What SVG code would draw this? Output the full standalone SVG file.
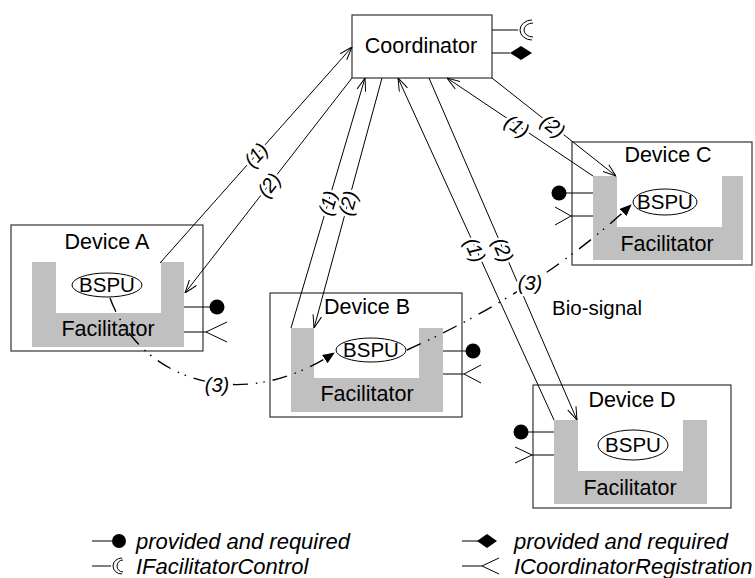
<svg xmlns="http://www.w3.org/2000/svg" width="755" height="578" viewBox="0 0 755 578">
<style>
text{font-family:"Liberation Sans",Arial,sans-serif;fill:#000}
.t{font-size:21.5px;text-anchor:middle}
.b{font-size:20.5px;text-anchor:middle}
.box{fill:#fff;stroke:#333;stroke-width:1.2}
.fac{fill:#c0c0c0;stroke:none}
.ell{fill:#fff;stroke:#000;stroke-width:1}
.ln{stroke:#000;stroke-width:1;fill:none}
.lbl{font-size:20px;font-style:italic;text-anchor:middle;stroke:#fff;stroke-width:5;paint-order:stroke;stroke-linejoin:round}
.bio{stroke:#000;stroke-width:1.4;fill:none;stroke-dasharray:15 8 1.5 6 1.5 8}
.leg{font-size:22px;font-style:italic}
</style>
<defs>
<marker id="open" viewBox="0 0 13 10" refX="13" refY="5" markerWidth="13" markerHeight="10" markerUnits="userSpaceOnUse" orient="auto"><path d="M0,0.5 L13,5 L0,9.5" fill="none" stroke="#000" stroke-width="1"/></marker>
<marker id="solid" viewBox="0 0 12 10" refX="11" refY="5" markerWidth="12" markerHeight="10" markerUnits="userSpaceOnUse" orient="auto"><path d="M0,0 L12,5 L0,10 z" fill="#000"/></marker>
</defs>
<rect width="755" height="578" fill="#fff"/>

<g id="coordinator">
<rect class="box" x="352" y="15" width="140" height="63"/>
<text class="t" x="421" y="53">Coordinator</text>
<line class="ln" x1="492" y1="30" x2="518" y2="30"/>
<path d="M532,20 A12,10 0 0 0 532,40" class="ln"/>
<path d="M533,23 A9,7 0 0 0 533,37" class="ln"/>
<line class="ln" x1="492" y1="53" x2="510" y2="53"/>
<path d="M510,53 L521,46 L532,53 L521,60 Z" fill="#000"/>
</g>

<g id="deviceA">
<rect class="box" x="11" y="225" width="192" height="126"/>
<path class="fac" d="M32,262 H56 V313 H161 V262 H184 V347 H32 Z"/>
<text class="t" x="107" y="249">Device A</text>
<ellipse class="ell" cx="107" cy="285" rx="35" ry="12"/>
<text class="b" x="107" y="292">BSPU</text>
<text class="t" x="108" y="336">Facilitator</text>
<line class="ln" x1="184" y1="307" x2="211" y2="307"/>
<circle cx="217" cy="307" r="7.5" fill="#000"/>
<line class="ln" x1="184" y1="332" x2="206" y2="332"/>
<path class="ln" d="M227,322 L206,332 L227,342" stroke-width="1.3"/>
</g>

<g id="deviceB">
<rect class="box" x="270" y="293" width="192" height="124"/>
<path class="fac" d="M291,328 H314 V378 H419 V328 H443 V412 H291 Z"/>
<text class="t" x="367" y="314">Device B</text>
<ellipse class="ell" cx="371" cy="350" rx="35" ry="12"/>
<text class="b" x="371" y="357">BSPU</text>
<text class="t" x="367" y="401">Facilitator</text>
<line class="ln" x1="443" y1="351" x2="467" y2="351"/>
<circle cx="473" cy="351" r="7.5" fill="#000"/>
<line class="ln" x1="443" y1="374" x2="464" y2="374"/>
<path class="ln" d="M481,365 L464,374 L481,383" stroke-width="1.3"/>
</g>

<g id="deviceC">
<rect class="box" x="572" y="142" width="180" height="123"/>
<path class="fac" d="M593,176 H617 V227 H722 V176 H743 V260 H593 Z"/>
<text class="t" x="668" y="162">Device C</text>
<ellipse class="ell" cx="665" cy="202" rx="32" ry="13"/>
<text class="b" x="665" y="209">BSPU</text>
<text class="t" x="667" y="251">Facilitator</text>
<line class="ln" x1="565" y1="193" x2="593" y2="193"/>
<circle cx="559" cy="193" r="7.5" fill="#000"/>
<line class="ln" x1="571" y1="216" x2="593" y2="216"/>
<path class="ln" d="M555,207 L571,216 L555,225" stroke-width="1.3"/>
</g>

<g id="deviceD">
<rect class="box" x="533" y="385" width="198" height="123"/>
<path class="fac" d="M554,420 H578 V471 H683 V420 H707 V504 H554 Z"/>
<text class="t" x="632" y="407">Device D</text>
<ellipse class="ell" cx="633" cy="445" rx="35" ry="15"/>
<text class="b" x="633" y="452">BSPU</text>
<text class="t" x="630" y="495">Facilitator</text>
<line class="ln" x1="527" y1="432" x2="554" y2="432"/>
<circle cx="521" cy="432" r="7.5" fill="#000"/>
<line class="ln" x1="532" y1="455" x2="554" y2="455"/>
<path class="ln" d="M515,447 L532,455 L515,463" stroke-width="1.3"/>
</g>

<g id="connectors">
<line class="ln" x1="160" y1="263" x2="352" y2="47" marker-end="url(#open)"/>
<line class="ln" x1="352" y1="78" x2="185" y2="293" marker-end="url(#open)"/>
<line class="ln" x1="291" y1="328" x2="365" y2="78" marker-end="url(#open)"/>
<line class="ln" x1="382" y1="78" x2="314" y2="328" marker-end="url(#open)"/>
<line class="ln" x1="593" y1="176" x2="447" y2="78" marker-end="url(#open)"/>
<line class="ln" x1="492" y1="78" x2="616" y2="176" marker-end="url(#open)"/>
<line class="ln" x1="554" y1="420" x2="398" y2="78" marker-end="url(#open)"/>
<line class="ln" x1="429" y1="78" x2="577" y2="420" marker-end="url(#open)"/>
<path class="bio" d="M110,298 C140,380 240,415 334,353" marker-end="url(#solid)"/>
<path class="bio" d="M407,350 Q540,290 631,205" marker-end="url(#solid)"/>
<text class="lbl" transform="translate(256,155) rotate(-48.4)" dy="7">(1)</text>
<text class="lbl" transform="translate(269,185) rotate(-52.2)" dy="7">(2)</text>
<text class="lbl" transform="translate(328,203) rotate(-73.5)" dy="7">(1)</text>
<text class="lbl" transform="translate(348,203) rotate(-74.8)" dy="7">(2)</text>
<text class="lbl" transform="translate(517,126) rotate(33.9)" dy="7">(1)</text>
<text class="lbl" transform="translate(553,126) rotate(38.3)" dy="7">(2)</text>
<text class="lbl" transform="translate(475,250) rotate(65.5)" dy="7">(1)</text>
<text class="lbl" transform="translate(503,250) rotate(66.6)" dy="7">(2)</text>
<text class="lbl" x="217" y="392">(3)</text>
<text class="lbl" x="530" y="290">(3)</text>
</g>

<text x="552" y="315" font-size="20.5">Bio-signal</text>

<g id="legend">
<line class="ln" x1="92" y1="541" x2="112" y2="541"/>
<circle cx="119" cy="541" r="7" fill="#000"/>
<text class="leg" x="136" y="549">provided and required</text>
<line class="ln" x1="92" y1="566" x2="111" y2="566"/>
<path class="ln" d="M122,558 A9,8 0 0 0 122,574"/>
<path class="ln" d="M123,560 A6,6 0 0 0 123,572"/>
<text class="leg" x="136" y="574">IFacilitatorControl</text>
<line class="ln" x1="462" y1="541" x2="479" y2="541"/>
<path d="M477,541 L487,534 L497,541 L487,548 Z" fill="#000"/>
<text class="leg" x="514" y="549">provided and required</text>
<line class="ln" x1="462" y1="566" x2="482" y2="566"/>
<path class="ln" d="M499,558 L482,566 L499,574" stroke-width="1.3"/>
<text class="leg" x="514" y="574">ICoordinatorRegistration</text>
</g>
</svg>
